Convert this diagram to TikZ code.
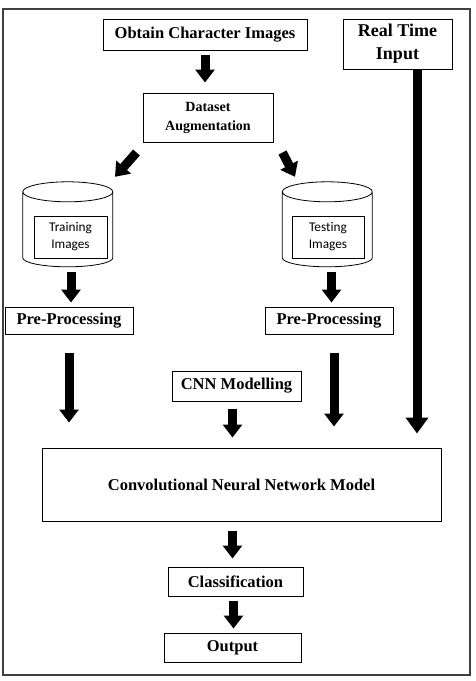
\documentclass[tikz,border=0pt]{standalone}
\usepackage{fontspec}
\setmainfont{Liberation Serif}
\newfontfamily\calfont[Ligatures=NoCommon]{Carlito}
\usepackage{tikz}
\usetikzlibrary{shapes.geometric,arrows.meta,positioning}

\begin{document}
\begin{tikzpicture}[
    x=1pt, y=-1pt,
    box/.style={draw, line width=1pt, inner sep=2pt, align=center, font=\fontsize{16.5}{19}\selectfont\bfseries},
    dbnode/.style={minimum width=90pt, minimum height=86pt, inner sep=0pt},
    imgbox/.style={draw, line width=1pt, minimum width=73pt, minimum height=42pt, align=center, font=\calfont\fontsize{13.3}{17}\selectfont},
    arr/.style={-{Triangle[width=19pt,length=13pt]}, line width=9pt},
    bigarr/.style={-{Triangle[width=22pt,length=16pt]}, line width=9pt}
]
\useasboundingbox (0,0) rectangle (475,681);
\draw[line width=1.2pt, black!75] (3,9) rectangle (470,675);

\node[box, minimum width=204pt, minimum height=31pt] (obtain) at (205,34.5) {Obtain Character Images};
\node[box, minimum width=109pt, minimum height=50pt, font=\fontsize{18}{23}\selectfont\bfseries] (rt) at (397.5,44) {Real Time\\Input};
\node[box, minimum width=130pt, minimum height=49pt, font=\fontsize{14}{19}\selectfont\bfseries] (aug) at (208,117.5) {Dataset\\Augmentation};

\node[dbnode] (trdb) at (68,225) {};
\node[dbnode] (tsdb) at (327.5,225) {};
\foreach \db in {trdb,tsdb}
  \draw[line width=0.8pt] (\db.north west) ++(0,10) -- ++(0,66)
    arc[start angle=180, end angle=360, x radius=45pt, y radius=9pt] -- ++(0,-66)
    arc[start angle=0, end angle=180, x radius=45pt, y radius=10pt]
    arc[start angle=180, end angle=360, x radius=45pt, y radius=10pt];
\node[imgbox] (trimg) at (70.5,237) {Training\\Images};
\node[imgbox, minimum width=72pt] (tsimg) at (328,237) {Testing\\Images};

\node[box, minimum width=128pt, minimum height=27pt] (trpre) at (69,320.5) {Pre-Processing};
\node[box, minimum width=128pt, minimum height=27pt] (tspre) at (329,320.5) {Pre-Processing};
\node[box, minimum width=129pt, minimum height=30pt] (cnnmod) at (236.5,386) {CNN Modelling};
\node[box, minimum width=399pt, minimum height=73pt] (cnn) at (241.5,484.5) {Convolutional Neural Network Model};
\node[box, minimum width=135pt, minimum height=29pt] (cls) at (235.5,581.5) {Classification};
\node[box, minimum width=137pt, minimum height=29pt] (out) at (232.5,647.5) {Output};

\draw[arr, shorten <=4pt, shorten >=10pt] (obtain.south) -- (obtain.south |- aug.north);
\draw[arr] ([shift={(-6,10)}]aug.south west) -- ([shift={(47,-5)}]trdb.north);
\draw[arr] ([shift={(9,10)}]aug.south east) -- ([shift={(-32.5,-5)}]tsdb.north);
\draw[arr, shorten <=4pt, shorten >=4pt] ([xshift=3]trdb.south) -- ([xshift=3]trdb.south |- trpre.north);
\draw[arr, shorten <=4pt, shorten >=4pt] ([xshift=4]tsdb.south) -- ([xshift=4]tsdb.south |- tspre.north);
\draw[arr, shorten <=18pt, shorten >=25pt] (trpre.south) -- (trpre.south |- cnn.north);
\draw[arr, shorten <=18pt, shorten >=21pt] ([xshift=5]tspre.south) -- ([xshift=5]tspre.south |- cnn.north);
\draw[bigarr, shorten >=14pt] ([xshift=19.5]rt.south) -- ([xshift=19.5]rt.south |- cnn.north);
\draw[arr, shorten <=7pt, shorten >=10pt] ([xshift=-4]cnnmod.south) -- ([xshift=-4]cnnmod.south |- cnn.north);
\draw[arr, shorten <=9pt, shorten >=8pt] ([xshift=-3]cls.north |- cnn.south) -- ([xshift=-3]cls.north);
\draw[arr, shorten <=4pt, shorten >=4pt] ([xshift=-2]cls.south) -- ([xshift=-2]cls.south |- out.north);
\end{tikzpicture}
\end{document}
